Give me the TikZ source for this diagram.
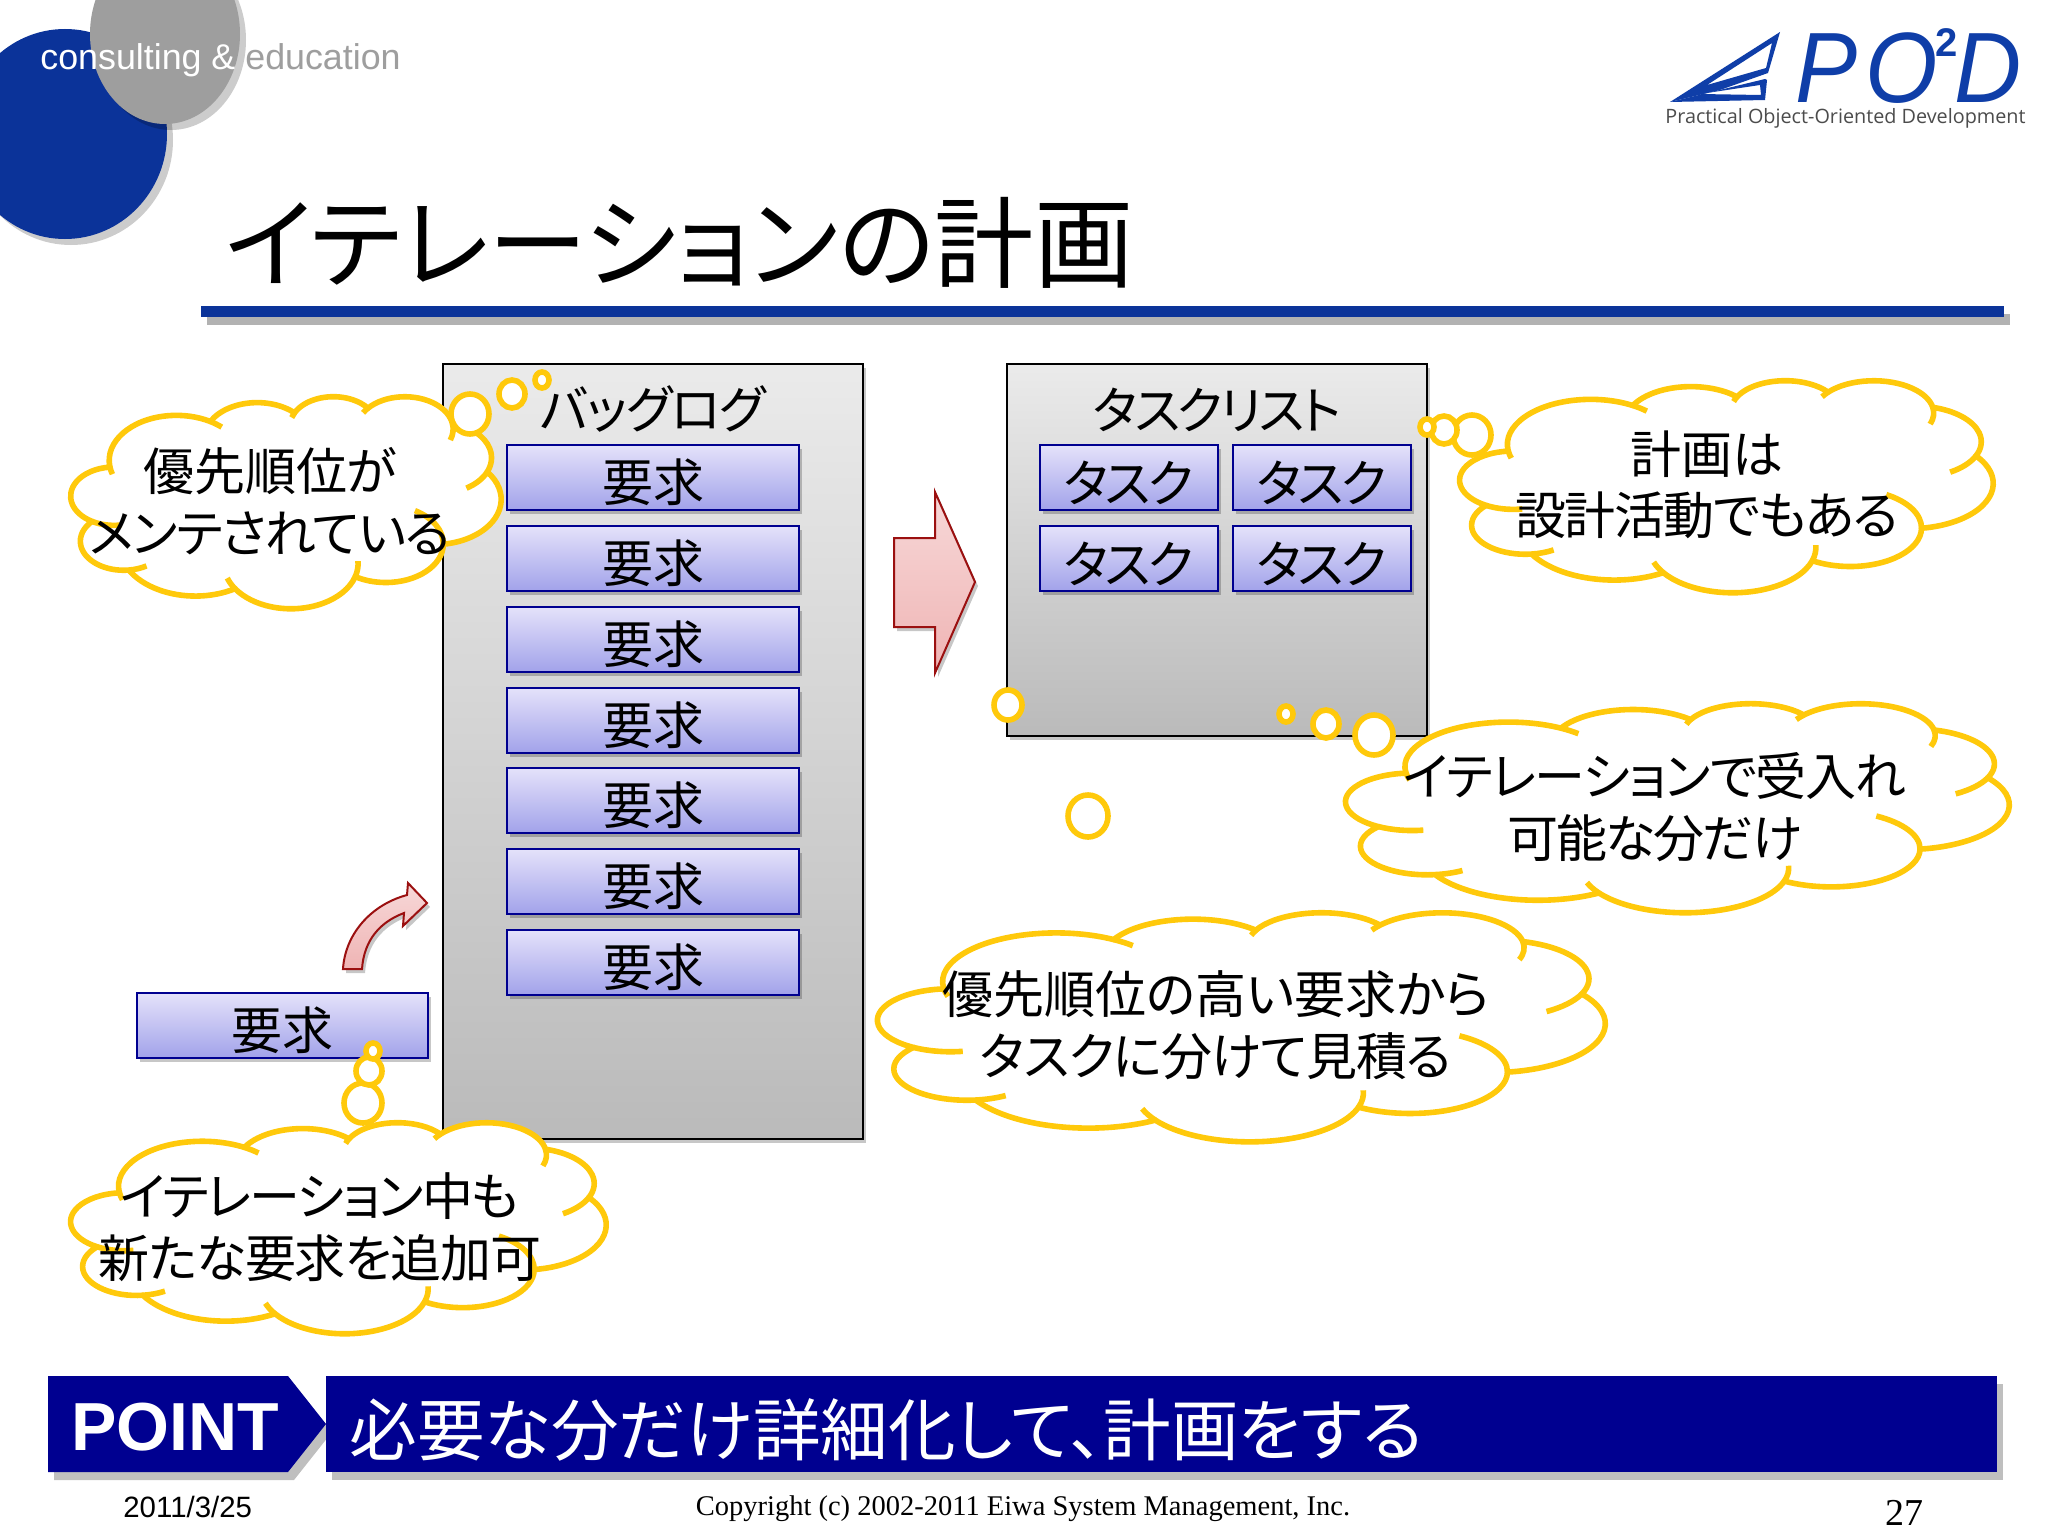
\documentclass[tikz,border=0pt]{standalone}
\usepackage{fontspec}
\usetikzlibrary{shadows,shapes.geometric}
\setmainfont{Liberation Sans}
\newfontfamily\jp[RawFeature=+palt]{Noto Sans CJK JP}
\newfontfamily\ser{Liberation Serif}
\newfontfamily\logofont{Open Sans}
\newcommand\fs[1]{\fontsize{#1}{#1}\selectfont}
\newcommand\trk[2]{{\addfontfeatures{LetterSpace=#1}#2}}
\newcommand\lowr[1]{\raisebox{-2.5pt}[\height][\depth]{#1}}
\definecolor{yel}{HTML}{FFC90B}
\definecolor{dblue}{HTML}{0B3399}
\definecolor{navy}{HTML}{000090}
\definecolor{logoblue}{HTML}{0F3EA8}
\definecolor{arrowred}{HTML}{9B1010}
\definecolor{reqtop}{HTML}{E4E2FA}
\definecolor{reqbot}{HTML}{A2A2EA}
\definecolor{redtop}{HTML}{F7D8D8}
\definecolor{redbot}{HTML}{EFB4B4}
\tikzset{
  softshadow/.style={drop shadow={shadow xshift=1.5pt,shadow yshift=-2pt,opacity=.22,fill=black}},
  graybox/.style={draw=black,line width=1pt,inner sep=0pt,top color=black!8,bottom color=black!27,softshadow},
  reqbox/.style={draw=navy,line width=1pt,inner sep=0pt,top color=reqtop,bottom color=reqbot,softshadow,minimum height=32.5pt,font=\jp\fs{25.5}},
  cloudline/.style={draw=yel,line width=2.8pt,line join=round},
  bubble/.style={ellipse,draw=yel,line width=2.8pt,fill=white,inner sep=0pt},
  cloudtext/.style={align=center,font=\jp\fontsize{25.5}{30.75}\selectfont,inner sep=0pt},
  redarrow/.style={draw=arrowred,line width=1pt,line join=miter,top color=redtop,bottom color=redbot,softshadow},
  logoletter/.style={text=logoblue,font=\itshape\fs{50},xscale=.93,inner sep=0pt,anchor=base west},
}
\newcommand\lobe[4]{arc[x radius=#1,y radius=#2,start angle={atan2(#1*sin(#3),#2*cos(#3))},delta angle={Mod(atan2(#1*sin(#3+#4),#2*cos(#3+#4))-atan2(#1*sin(#3),#2*cos(#3)),360)}]}
\newcommand\ticka[4]{arc[x radius=#1,y radius=#2,start angle={atan2(#1*sin(#3),#2*cos(#3))},delta angle=#4]}
\newcommand\cloudshape[4]{%
\begin{scope}[shift={(#1,#2)},x={1pt*(#3-#1)/86.4},y={-1pt*(#4-#2)/86.4}]
\draw[cloudline,fill=white] (3.9,14.37) coordinate (k0)
 \lobe{6.753}{9.19}{-190.4875}{123.7805} coordinate (k1)
 \lobe{5.333}{7.267}{-144.1024}{89.9452} coordinate (k2)
 \lobe{4.365}{5.945}{-145.8079}{99.7230} coordinate (k3)
 \lobe{4.857}{6.595}{-130.9861}{117.2417} coordinate (k4)
 \lobe{5.333}{7.273}{-78.7089}{109.0189} coordinate (k5)
 \lobe{6.775}{9.22}{-46.2673}{130.2690} coordinate (k6)
 \lobe{5.785}{7.867}{0.625}{114.0333} coordinate (k7)
 \lobe{6.752}{9.215}{22.4516}{115.1726} coordinate (k8)
 \lobe{7.72}{10.543}{66.2426}{75.7110} coordinate (k9)
 \lobe{4.36}{5.918}{-274.9421}{146.7356} coordinate (k10)
 \lobe{4.345}{5.945}{-246.8285}{152.5189} -- cycle;
\draw[cloudline] (k0) \ticka{6.753}{9.19}{-190.4875}{-10};
\draw[cloudline] (k1) \ticka{6.753}{9.19}{-66.707}{12};
\draw[cloudline] (k2) \ticka{4.365}{5.945}{-145.8079}{-10};
\draw[cloudline] (k3) \ticka{4.857}{6.595}{-130.9861}{-10};
\draw[cloudline] (k4) \ticka{4.857}{6.595}{-13.7444}{30};
\draw[cloudline] (k5) \ticka{5.333}{7.273}{30.31}{35};
\draw[cloudline] (k6) \ticka{5.785}{7.867}{0.625}{-60};
\draw[cloudline] (k7) \ticka{6.752}{9.215}{22.4516}{-20};
\draw[cloudline] (k8) \ticka{6.752}{9.215}{137.6242}{15};
\draw[cloudline] (k9) \ticka{4.36}{5.918}{-274.9421}{-25};
\draw[cloudline] (k10) \ticka{4.345}{5.945}{-246.8285}{-40};
\end{scope}}
\begin{document}
\begin{tikzpicture}[x=.5pt,y=-.5pt]
\clip (0,0) rectangle (2048,1536);
\fill[white] (0,0) rectangle (2048,1536);
% top-left logo
\node[ellipse,fill=dblue,minimum width=102pt,minimum height=105pt,inner sep=0pt,drop shadow={shadow xshift=3pt,shadow yshift=-3pt,opacity=.2,fill=black}] (blueball) at (65,134) {};
\node[ellipse,fill=black!38,minimum width=75pt,minimum height=90pt,inner sep=0pt,drop shadow={shadow xshift=3pt,shadow yshift=-3pt,opacity=.2,fill=black}] (grayball) at (165,34) {};
\node[anchor=base west,inner sep=0pt,font=\fs{17.9}] (brand) at (40,69) {\textcolor{white}{consulting \&} \textcolor{black!38}{education}};
% top-right logo
\fill[logoblue,even odd rule] (1670,102) -- (1780,32) -- (1768,73) -- (1720,90) -- cycle (1772,43) -- (1766,68) -- (1707,85) -- cycle;
\fill[logoblue,even odd rule] (1670,102) -- (1765,79) -- (1767,80) -- (1765,100) -- cycle (1700,94) -- (1760,85) -- (1761,95) -- cycle;
\node[logoletter] (lp) at (1795,103) {P};
\node[logoletter] (lo) at (1865,103) {O};
\node[text=logoblue,font=\bfseries\fs{20},inner sep=0pt,anchor=base west] (l2) at (1935,57) {2};
\node[logoletter] (ld) at (1954,103) {D};
\node[anchor=base west,inner sep=0pt,text=black!70,font=\logofont\fs{9.9}] (ltag) at (1665,123) {Practical Object-Oriented Development};
% title
\node[anchor=base west,inner sep=0pt,font=\jp\fs{49.7}] (title) at (225,280) {イテレーションの計画};
\path[draw=none,fill=dblue,drop shadow={shadow xshift=3pt,shadow yshift=-4pt,opacity=.3,fill=black}] (201,306) rectangle (2004,317);
% backlog
\node[graybox,minimum width=210pt,minimum height=387.5pt] (backlog) at (653,751.5) {};
\node[font=\jp\fs{25.5},inner sep=0pt] (backlogt) at (653,409) {\trk{-2.5}{バッグログ}};
\foreach \n/\y in {1/477.5,2/558.5,3/639.5,4/720.5,5/800.5,6/881.5,7/962.5}
  \node[reqbox,minimum width=146pt] (req\n) at (653,\y) {\lowr{要求}};
% task list
\node[graybox,minimum width=210pt,minimum height=186pt] (tasks) at (1217,550) {};
\node[font=\jp\fs{25.5},inner sep=0pt] (taskst) at (1217,410) {\trk{-6}{タスクリスト}};
\node[reqbox,minimum width=89pt] (t1) at (1129,477.5) {\lowr{\trk{-6}{タスク}}};
\node[reqbox,minimum width=89pt] (t2) at (1322,477.5) {\lowr{\trk{-6}{タスク}}};
\node[reqbox,minimum width=89pt] (t3) at (1129,558.5) {\lowr{\trk{-6}{タスク}}};
\node[reqbox,minimum width=89pt] (t4) at (1322,558.5) {\lowr{\trk{-6}{タスク}}};
% arrows
\path[redarrow] (894,538) -- (935,538) -- (935,492) -- (975,582) -- (935,673) -- (935,627) -- (894,627) -- cycle;
\path[redarrow] (343,969) .. controls (345,935) and (370,905) .. (407,895) -- (408,883) -- (427,903) -- (403,926) -- (404,913) .. controls (380,922) and (364,940) .. (362,969) -- cycle;
% extra requirement
\node[reqbox,minimum width=145.5pt] (reqx) at (282.5,1025.5) {\lowr{要求}};
% clouds
\cloudshape{71}{396}{501}{608}
\node[bubble,minimum width=19pt,minimum height=20pt] (b1a) at (470,414) {};
\node[bubble,minimum width=13pt,minimum height=14pt] (b1b) at (512,394) {};
\node[bubble,minimum width=7pt,minimum height=8pt] (b1c) at (542,380) {};
\node[cloudtext] (c1) at (270,501) {優先順位が\\\trk{-3.2}{メンテされている}};
\cloudshape{1460}{380}{1993}{592}
\node[bubble,minimum width=19pt,minimum height=20pt] (b2a) at (1472,435) {};
\node[bubble,minimum width=13pt,minimum height=14pt] (b2b) at (1444,430) {};
\node[bubble,minimum width=7pt,minimum height=8pt] (b2c) at (1427,427) {};
\node[cloudtext] (c2) at (1707,485) {計画は\\\trk{-3}{設計活動でもある}};
\cloudshape{1346}{703}{2009}{912}
\node[bubble,minimum width=19pt,minimum height=20pt] (b3a) at (1374,735) {};
\node[bubble,minimum width=13pt,minimum height=14pt] (b3b) at (1326,724) {};
\node[bubble,minimum width=7pt,minimum height=8pt] (b3c) at (1286,714) {};
\node[cloudtext] (c3) at (1655,807) {\trk{-2.4}{イテレーションで受入れ}\\\trk{-4}{可能な分だけ}};
\cloudshape{878}{912}{1605}{1141}
\node[bubble,minimum width=20pt,minimum height=21pt] (b4a) at (1088,816) {};
\node[bubble,minimum width=14pt,minimum height=15pt] (b4b) at (1008,705) {};
\node[cloudtext] (c4) at (1216,1025) {優先順位の高い要求から\\\trk{-2}{タスクに分けて見積る}};
\cloudshape{71}{1122}{606}{1333}
\node[bubble,minimum width=19pt,minimum height=20pt] (b5a) at (363,1103) {};
\node[bubble,minimum width=13pt,minimum height=14pt] (b5b) at (369,1071) {};
\node[bubble,minimum width=7pt,minimum height=8pt] (b5c) at (373,1051) {};
\node[cloudtext] (c5) at (320,1227) {\trk{-3.7}{イテレーション中も}\\\trk{-2.2}{新たな要求を追加可}};
% point bar
\path[fill=navy,drop shadow={shadow xshift=3pt,shadow yshift=-4pt,opacity=.25,fill=black}] (48,1376) -- (288,1376) -- (326,1424) -- (288,1472) -- (48,1472) -- cycle;
\path[fill=navy,drop shadow={shadow xshift=3pt,shadow yshift=-4pt,opacity=.25,fill=black}] (326,1376) rectangle (1997,1472);
\node[anchor=base west,inner sep=0pt,text=white,font=\bfseries\fs{34}] (point) at (71,1450) {POINT};
\node[anchor=west,inner sep=0pt,text=white,font=\jp\fs{33.8}] (pointt) at (349,1430) {必要な分だけ詳細化して、計画をする};
% footer
\node[anchor=base west,inner sep=0pt,font=\fs{14.7}] (date) at (123,1517) {2011/3/25};
\node[inner sep=0pt,font=\ser\fs{14.25}] (copy) at (1023,1508.5) {Copyright (c) 2002-2011 Eiwa System Management, Inc.};
\node[inner sep=0pt,font=\ser\fs{19}] (page) at (1904,1513) {27};
\end{tikzpicture}
\end{document}
